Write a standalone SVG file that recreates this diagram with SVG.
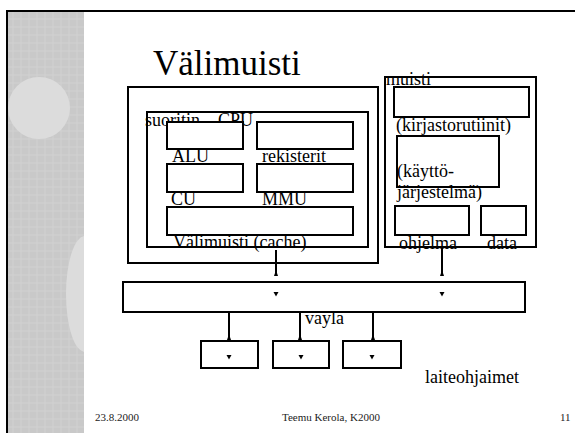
<svg xmlns="http://www.w3.org/2000/svg" width="575" height="433" viewBox="0 0 575 433">
<style>
.b{fill:#fff;stroke:#000;stroke-width:2}
.t{font-family:"Liberation Serif",serif;font-size:18px;fill:#000}
.f{font-family:"Liberation Serif",serif;font-size:11px;fill:#222}
.c{stroke:#000;stroke-width:2;fill:none}
</style>
<defs>
<pattern id="tex" width="8" height="8" patternUnits="userSpaceOnUse">
<rect width="8" height="8" fill="#c9c9c9"/>
<path d="M0 3H8M5 0V8" stroke="#d2d2d2" stroke-width="1"/>
</pattern>
<clipPath id="band"><rect x="8" y="12" width="76" height="421"/></clipPath>
<path id="up" d="M0 -6L2 0H-2Z" fill="#000"/>
<path id="dn" d="M-2.5 0H2.5L0 4.5Z" fill="#000"/>
</defs>
<rect width="575" height="433" fill="#fff"/>
<g id="background">
<rect x="8" y="12" width="76" height="421" fill="url(#tex)"/>
<g clip-path="url(#band)" fill="#dcdcdc">
<circle cx="39" cy="108" r="31"/>
<ellipse cx="85" cy="294" rx="19" ry="58"/>
</g>
<path d="M7 433V11H575" fill="none" stroke="#000" stroke-width="2"/>
</g>
<text class="t" x="153" y="75" style="font-size:35px">Välimuisti</text>
<g id="computer">
<rect class="b" x="128" y="87" width="250" height="176"/>
</g>
<g id="cpu">
<rect class="b" x="147" y="112" width="221" height="135"/>
<text class="t" x="145" y="126">suoritin<tspan x="218">CPU</tspan></text>
</g>
<g id="alu">
<rect class="b" x="167" y="122" width="76" height="27"/>
<text class="t" x="172" y="162">ALU</text>
</g>
<g id="rekisterit">
<rect class="b" x="257" y="122" width="96" height="27"/>
<text class="t" x="262" y="162">rekisterit</text>
</g>
<g id="cu">
<rect class="b" x="167" y="164" width="76" height="28"/>
<text class="t" x="171" y="205">CU</text>
</g>
<g id="mmu">
<rect class="b" x="257" y="164" width="96" height="28"/>
<text class="t" x="262" y="205">MMU</text>
</g>
<g id="cache">
<rect class="b" x="167" y="207" width="186" height="28"/>
<text class="t" x="173" y="248">Välimuisti (cache)</text>
</g>
<g id="muisti">
<rect class="b" x="385" y="77" width="151" height="170"/>
<text class="t" x="386" y="85">muisti</text>
</g>
<g id="kirjasto">
<rect class="b" x="394" y="87" width="135" height="30"/>
<text class="t" x="396" y="131">(kirjastorutiinit)</text>
</g>
<g id="kayttojarjestelma">
<rect class="b" x="397" y="136" width="102" height="51"/>
<text class="t" x="397" y="177">(käyttö-</text>
<text class="t" x="397" y="198">järjestelmä)</text>
</g>
<g id="ohjelma">
<rect class="b" x="395" y="206" width="74" height="29"/>
<text class="t" x="399" y="249">ohjelma</text>
</g>
<g id="data">
<rect class="b" x="481" y="206" width="45" height="29"/>
<text class="t" x="487" y="249">data</text>
</g>
<g id="vayla">
<rect class="b" x="123" y="282" width="402" height="30"/>
<text class="t" x="305" y="324">väylä</text>
</g>
<g id="laite1"><rect class="b" x="201" y="341" width="57" height="27"/></g>
<g id="laite2"><rect class="b" x="273" y="341" width="56" height="27"/></g>
<g id="laite3"><rect class="b" x="343" y="341" width="58" height="27"/></g>
<text class="t" x="425" y="383">laiteohjaimet</text>
<g id="connectors">
<path class="c" d="M276 250V276M442 248V276M229 312V340M300 312V340M373 312V340"/>
<use href="#up" x="276" y="276"/>
<use href="#up" x="442" y="276"/>
<use href="#up" x="229" y="340"/>
<use href="#up" x="300" y="340"/>
<use href="#up" x="373" y="340"/>
<use href="#dn" x="276" y="292"/>
<use href="#dn" x="442" y="292"/>
<use href="#dn" x="229" y="355"/>
<use href="#dn" x="301" y="355"/>
<use href="#dn" x="372" y="355"/>
</g>
<g id="footer">
<text class="f" x="95" y="421">23.8.2000</text>
<text class="f" x="282" y="421">Teemu Kerola, K2000</text>
<text class="f" x="560" y="421">11</text>
</g>
</svg>
